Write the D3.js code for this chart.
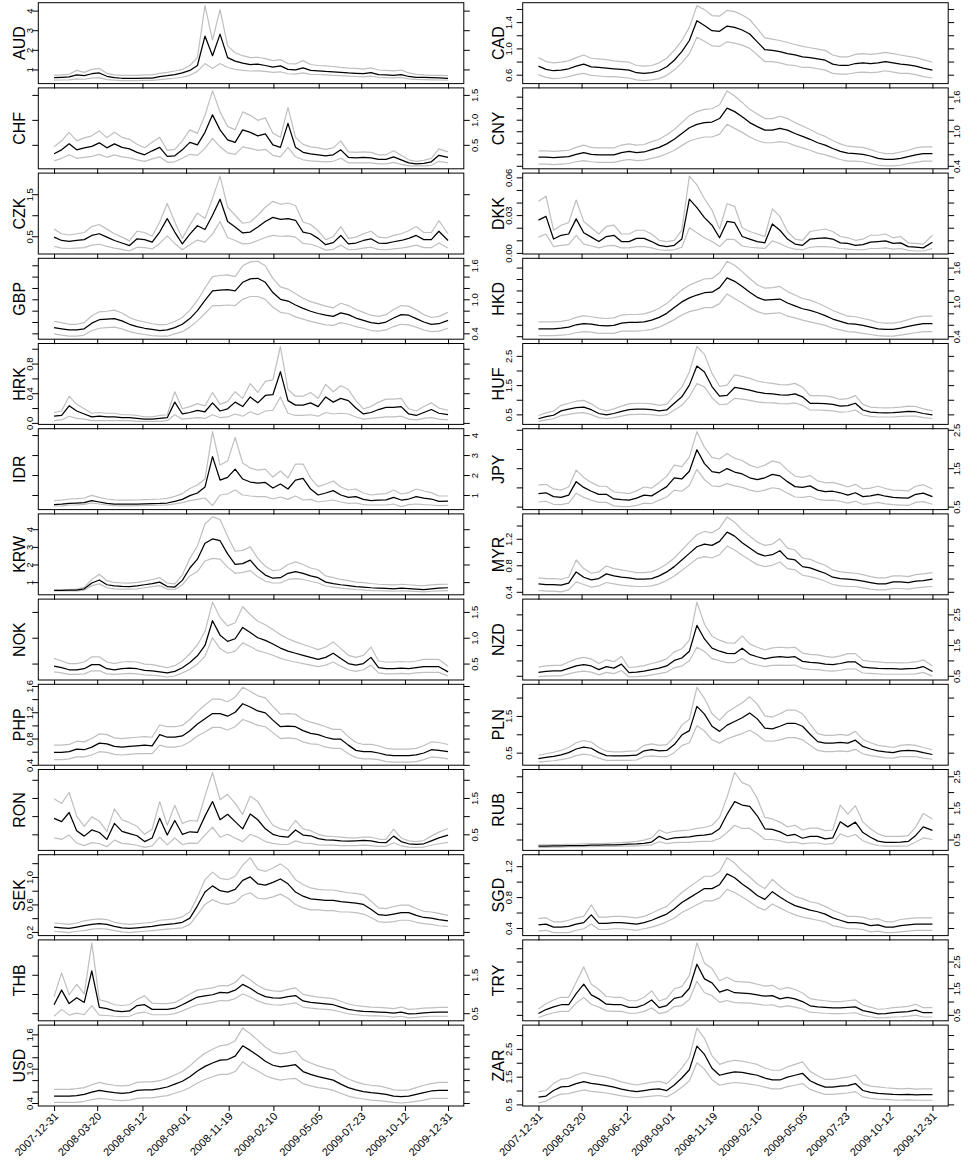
<!DOCTYPE html>
<html>
<head>
<meta charset="utf-8">
<script src="https://cdn.jsdelivr.net/npm/d3@7"></script>
<style>
  body { margin: 0; background: #fff; }
  svg { display: block; }
  text { font-family: "Liberation Sans", Arial, Helvetica, sans-serif; }
</style>
</head>
<body>
<div id="chart"></div>
<script>
// observation dates (every two weeks, end of 2009 as last point)
var dates = ["2007-12-31","2008-01-14","2008-01-28","2008-02-11","2008-02-25","2008-03-10","2008-03-24","2008-04-07","2008-04-21","2008-05-05",
  "2008-05-19","2008-06-02","2008-06-16","2008-06-30","2008-07-14","2008-07-28","2008-08-11","2008-08-25","2008-09-08","2008-09-22",
  "2008-10-06","2008-10-20","2008-11-03","2008-11-17","2008-12-01","2008-12-15","2008-12-29","2009-01-12","2009-01-26","2009-02-09",
  "2009-02-23","2009-03-09","2009-03-23","2009-04-06","2009-04-20","2009-05-04","2009-05-18","2009-06-01","2009-06-15","2009-06-29",
  "2009-07-13","2009-07-27","2009-08-10","2009-08-24","2009-09-07","2009-09-21","2009-10-05","2009-10-19","2009-11-02","2009-11-16",
  "2009-11-30","2009-12-14","2009-12-31"];
var tickDates = ["2007-12-31","2008-03-20","2008-06-12","2008-09-01","2008-11-19","2009-02-10","2009-05-05","2009-07-23","2009-10-12","2009-12-31"];

var leftCurrencies = ["AUD","CHF","CZK","GBP","HRK","IDR","KRW","NOK","PHP","RON","SEK","THB","USD"];
var rightCurrencies = ["CAD","CNY","DKK","HKD","HUF","JPY","MYR","NZD","PLN","RUB","SGD","TRY","ZAR"];

// ---- left column ----
var AUD = [0.58,0.6,0.62,0.72,0.68,0.78,0.82,0.65,0.58,0.55,0.55,0.55,0.56,0.56,0.63,0.68,0.74,0.82,0.95,1.2,2.7,1.7,2.8,1.6,1.42,1.32,1.25,1.27,1.2,1.12,1.18,1.0,0.98,1.08,0.95,0.93,0.9,0.88,0.85,0.82,0.8,0.78,0.84,0.74,0.72,0.7,0.74,0.64,0.6,0.59,0.58,0.57,0.55];
var AUD_hi = [0.7,0.72,0.75,0.95,0.85,1.0,1.05,0.8,0.72,0.7,0.7,0.7,0.72,0.72,0.8,0.85,0.92,1.0,1.2,1.6,4.25,2.5,4.05,2.2,1.85,1.7,1.6,1.62,1.55,1.45,1.5,1.3,1.28,1.45,1.25,1.2,1.18,1.15,1.1,1.07,1.05,1.02,1.08,0.97,0.95,0.93,0.97,0.82,0.75,0.72,0.7,0.7,0.68];
var AUD_lo = [0.45,0.46,0.47,0.52,0.5,0.56,0.58,0.48,0.45,0.43,0.43,0.43,0.44,0.44,0.48,0.52,0.55,0.6,0.7,0.9,1.3,1.05,1.3,1.1,1.0,0.95,0.92,0.93,0.9,0.85,0.88,0.78,0.76,0.82,0.75,0.74,0.72,0.7,0.68,0.66,0.64,0.62,0.66,0.6,0.58,0.57,0.59,0.52,0.49,0.48,0.47,0.46,0.45];
var AUD_ticks = [1,2,3,4], AUD_labels = ["1","2","3","4"];

var CHF = [0.32,0.4,0.52,0.4,0.44,0.47,0.54,0.44,0.52,0.45,0.42,0.35,0.3,0.38,0.45,0.27,0.28,0.4,0.55,0.5,0.75,1.1,0.8,0.6,0.55,0.8,0.75,0.68,0.72,0.5,0.45,0.93,0.45,0.35,0.32,0.3,0.28,0.3,0.4,0.25,0.24,0.25,0.24,0.21,0.21,0.26,0.2,0.14,0.12,0.13,0.16,0.29,0.25];
var CHF_hi = [0.46,0.58,0.75,0.58,0.64,0.68,0.78,0.64,0.75,0.65,0.61,0.51,0.44,0.55,0.65,0.39,0.41,0.58,0.8,0.73,1.09,1.58,1.16,0.87,0.8,1.16,1.09,0.99,1.04,0.73,0.65,1.25,0.65,0.51,0.46,0.44,0.41,0.44,0.58,0.36,0.35,0.36,0.35,0.3,0.3,0.38,0.29,0.2,0.17,0.19,0.23,0.42,0.36];
var CHF_lo = [0.18,0.23,0.3,0.23,0.25,0.27,0.31,0.25,0.3,0.26,0.24,0.2,0.17,0.22,0.26,0.15,0.16,0.23,0.31,0.29,0.43,0.63,0.46,0.34,0.31,0.46,0.43,0.39,0.41,0.29,0.26,0.45,0.26,0.2,0.18,0.17,0.16,0.17,0.23,0.14,0.14,0.14,0.14,0.12,0.12,0.15,0.11,0.08,0.08,0.08,0.09,0.17,0.14];
var CHF_ticks = [0.5,1,1.5], CHF_labels = ["0.5","1.0","1.5"];

var CZK = [0.48,0.4,0.38,0.4,0.42,0.52,0.56,0.48,0.4,0.34,0.28,0.44,0.42,0.36,0.6,0.92,0.6,0.32,0.55,0.75,0.66,1.0,1.38,0.85,0.72,0.58,0.6,0.72,0.85,0.95,0.9,0.92,0.88,0.6,0.56,0.45,0.3,0.35,0.52,0.32,0.34,0.4,0.44,0.34,0.33,0.37,0.4,0.45,0.52,0.42,0.42,0.62,0.4];
var CZK_hi = [0.67,0.56,0.53,0.56,0.59,0.73,0.78,0.67,0.56,0.48,0.39,0.62,0.59,0.5,0.84,1.28,0.84,0.45,0.77,1.05,0.92,1.4,1.93,1.19,1.0,0.81,0.84,1.0,1.19,1.33,1.26,1.29,1.23,0.84,0.78,0.63,0.42,0.49,0.73,0.45,0.48,0.56,0.62,0.48,0.46,0.52,0.56,0.63,0.73,0.59,0.59,0.87,0.56];
var CZK_lo = [0.26,0.22,0.21,0.22,0.23,0.29,0.31,0.26,0.22,0.19,0.15,0.24,0.23,0.2,0.33,0.51,0.33,0.18,0.3,0.41,0.36,0.55,0.85,0.47,0.4,0.32,0.33,0.4,0.47,0.52,0.5,0.51,0.48,0.33,0.31,0.25,0.17,0.19,0.29,0.18,0.19,0.22,0.24,0.19,0.18,0.2,0.22,0.25,0.29,0.23,0.23,0.34,0.22];
var CZK_ticks = [0.5,1,1.5], CZK_labels = ["0.5","","1.5"];

var GBP = [0.5,0.48,0.46,0.46,0.48,0.58,0.64,0.65,0.66,0.62,0.56,0.52,0.49,0.47,0.45,0.46,0.5,0.56,0.66,0.8,0.98,1.15,1.16,1.17,1.15,1.3,1.36,1.37,1.3,1.12,1.0,0.97,0.9,0.84,0.79,0.75,0.72,0.7,0.76,0.73,0.67,0.63,0.59,0.57,0.6,0.67,0.73,0.72,0.66,0.6,0.56,0.57,0.63];
var GBP_hi = [0.61,0.59,0.56,0.56,0.59,0.71,0.78,0.79,0.81,0.76,0.68,0.63,0.6,0.57,0.55,0.56,0.61,0.68,0.81,0.98,1.2,1.4,1.42,1.43,1.4,1.59,1.66,1.67,1.59,1.37,1.22,1.18,1.1,1.02,0.96,0.92,0.88,0.85,0.93,0.89,0.82,0.77,0.72,0.7,0.73,0.82,0.89,0.88,0.81,0.73,0.68,0.7,0.77];
var GBP_lo = [0.39,0.37,0.35,0.35,0.37,0.45,0.49,0.5,0.51,0.48,0.43,0.4,0.38,0.36,0.35,0.35,0.39,0.43,0.51,0.62,0.75,0.89,0.89,0.9,0.89,1.0,1.05,1.05,1.0,0.86,0.77,0.75,0.69,0.65,0.61,0.58,0.55,0.54,0.59,0.56,0.52,0.49,0.45,0.44,0.46,0.52,0.56,0.55,0.51,0.46,0.43,0.44,0.49];
var GBP_ticks = [0.4,0.6,0.8,1.0,1.2,1.4,1.6], GBP_labels = ["0.4","","","1.0","","","1.6"];

var HRK = [0.09,0.1,0.23,0.16,0.12,0.08,0.09,0.08,0.08,0.07,0.07,0.06,0.05,0.05,0.06,0.07,0.28,0.12,0.14,0.17,0.15,0.27,0.16,0.19,0.28,0.22,0.35,0.27,0.37,0.38,0.69,0.3,0.24,0.24,0.27,0.22,0.35,0.28,0.33,0.3,0.2,0.12,0.14,0.18,0.21,0.21,0.22,0.12,0.1,0.14,0.18,0.13,0.11];
var HRK_hi = [0.14,0.16,0.36,0.25,0.19,0.13,0.14,0.13,0.13,0.11,0.11,0.1,0.08,0.08,0.1,0.11,0.42,0.19,0.22,0.26,0.23,0.41,0.25,0.29,0.42,0.33,0.53,0.41,0.56,0.58,1.03,0.45,0.36,0.36,0.41,0.33,0.52,0.42,0.5,0.45,0.3,0.19,0.22,0.28,0.32,0.32,0.33,0.19,0.16,0.22,0.27,0.2,0.17];
var HRK_lo = [0.03,0.04,0.09,0.06,0.05,0.03,0.03,0.03,0.03,0.03,0.03,0.02,0.02,0.02,0.02,0.03,0.11,0.05,0.06,0.07,0.06,0.11,0.07,0.08,0.12,0.09,0.15,0.11,0.16,0.17,0.35,0.13,0.1,0.1,0.11,0.09,0.14,0.12,0.13,0.12,0.08,0.05,0.06,0.07,0.08,0.08,0.09,0.05,0.04,0.06,0.07,0.05,0.04];
var HRK_ticks = [0,0.2,0.4,0.6,0.8,1.0], HRK_labels = ["0.0","","0.4","","0.8",""];

var IDR = [0.52,0.54,0.58,0.6,0.62,0.72,0.65,0.58,0.55,0.54,0.54,0.55,0.56,0.57,0.58,0.6,0.68,0.78,0.97,1.1,1.4,2.92,1.75,1.88,2.3,1.8,1.65,1.6,1.63,1.35,1.55,1.3,1.75,1.83,1.3,1.0,1.1,1.22,1.0,0.88,0.92,0.78,0.72,0.74,0.76,0.88,0.75,0.8,0.92,0.85,0.8,0.68,0.7];
var IDR_hi = [0.72,0.74,0.8,0.82,0.85,0.98,0.88,0.8,0.76,0.74,0.74,0.75,0.77,0.78,0.8,0.83,0.93,1.07,1.33,1.5,1.8,4.17,2.5,2.7,3.88,2.6,2.35,2.25,2.3,1.9,2.2,1.85,2.55,2.55,1.85,1.42,1.55,1.7,1.4,1.25,1.3,1.1,1.0,1.04,1.07,1.25,1.05,1.12,1.3,1.2,1.12,0.95,0.95];
var IDR_lo = [0.45,0.46,0.5,0.51,0.53,0.6,0.55,0.5,0.47,0.46,0.46,0.47,0.48,0.48,0.49,0.51,0.56,0.62,0.72,0.78,0.85,0.47,1.0,1.05,1.25,1.0,0.95,0.92,0.92,0.8,0.9,0.78,0.95,0.75,0.78,0.65,0.7,0.75,0.65,0.58,0.6,0.52,0.5,0.5,0.5,0.55,0.42,0.52,0.55,0.52,0.5,0.47,0.48];
var IDR_ticks = [1,2,3,4], IDR_labels = ["1","2","3","4"];

var KRW = [0.53,0.53,0.54,0.55,0.62,0.95,1.12,0.85,0.78,0.76,0.75,0.78,0.85,0.92,1.0,0.75,0.72,1.1,1.8,2.3,3.2,3.45,3.35,2.6,2.0,2.05,2.25,1.75,1.4,1.22,1.25,1.5,1.6,1.5,1.35,1.25,1.0,0.92,0.85,0.8,0.75,0.72,0.68,0.66,0.64,0.62,0.66,0.63,0.6,0.57,0.62,0.66,0.68];
var KRW_hi = [0.55,0.56,0.58,0.6,0.7,1.15,1.45,1.08,0.98,0.95,0.94,0.98,1.06,1.15,1.25,0.95,0.9,1.4,2.35,3.05,4.3,4.7,4.55,3.6,2.75,2.8,3.0,2.35,1.9,1.65,1.7,2.0,2.15,2.0,1.8,1.7,1.35,1.25,1.15,1.08,1.0,0.97,0.92,0.88,0.86,0.84,0.88,0.85,0.82,0.8,0.84,0.87,0.88];
var KRW_lo = [0.5,0.5,0.5,0.5,0.55,0.8,0.9,0.68,0.62,0.6,0.6,0.62,0.68,0.74,0.8,0.6,0.58,0.85,1.35,1.6,2.2,2.35,2.3,1.85,1.5,1.55,1.65,1.3,1.05,0.95,0.95,1.15,1.2,1.15,1.05,0.95,0.78,0.72,0.66,0.62,0.58,0.56,0.52,0.51,0.5,0.48,0.51,0.49,0.47,0.45,0.48,0.5,0.52];
var KRW_ticks = [1,2,3,4], KRW_labels = ["1","2","3","4"];

var NOK = [0.45,0.42,0.38,0.38,0.4,0.48,0.48,0.4,0.38,0.4,0.41,0.4,0.37,0.36,0.34,0.32,0.35,0.42,0.52,0.65,0.85,1.33,1.05,0.93,0.98,1.2,1.1,1.0,0.95,0.88,0.8,0.74,0.7,0.66,0.62,0.58,0.62,0.7,0.6,0.5,0.47,0.5,0.62,0.42,0.4,0.4,0.41,0.4,0.42,0.44,0.44,0.44,0.34];
var NOK_hi = [0.6,0.55,0.5,0.5,0.53,0.63,0.63,0.53,0.5,0.53,0.54,0.53,0.49,0.48,0.45,0.42,0.46,0.55,0.69,0.86,1.12,1.69,1.39,1.23,1.29,1.6,1.45,1.32,1.25,1.16,1.06,0.98,0.92,0.87,0.82,0.77,0.82,0.92,0.79,0.66,0.62,0.66,0.82,0.55,0.53,0.53,0.54,0.53,0.55,0.58,0.58,0.58,0.45];
var NOK_lo = [0.34,0.32,0.29,0.29,0.3,0.36,0.36,0.3,0.29,0.3,0.31,0.3,0.28,0.27,0.26,0.24,0.26,0.32,0.39,0.49,0.64,1.0,0.79,0.7,0.74,0.9,0.83,0.75,0.71,0.66,0.6,0.56,0.53,0.5,0.47,0.44,0.47,0.53,0.45,0.38,0.35,0.38,0.47,0.32,0.3,0.3,0.31,0.3,0.32,0.33,0.33,0.33,0.26];
var NOK_ticks = [0.5,1,1.5], NOK_labels = ["0.5","1.0","1.5"];

var PHP = [0.59,0.59,0.6,0.64,0.63,0.67,0.73,0.72,0.68,0.67,0.68,0.69,0.7,0.69,0.86,0.82,0.82,0.84,0.92,1.02,1.1,1.18,1.18,1.14,1.2,1.33,1.28,1.22,1.19,1.08,0.98,0.99,0.98,0.92,0.88,0.86,0.82,0.79,0.79,0.7,0.62,0.6,0.6,0.58,0.55,0.54,0.54,0.54,0.55,0.58,0.63,0.62,0.6];
var PHP_hi = [0.7,0.7,0.71,0.76,0.75,0.8,0.87,0.86,0.81,0.8,0.81,0.82,0.83,0.82,1.01,0.98,0.98,1.0,1.09,1.21,1.31,1.4,1.4,1.36,1.43,1.58,1.52,1.45,1.42,1.29,1.17,1.18,1.17,1.09,1.05,1.02,0.98,0.94,0.94,0.83,0.74,0.71,0.71,0.69,0.65,0.64,0.64,0.64,0.65,0.69,0.75,0.74,0.71];
var PHP_lo = [0.48,0.48,0.49,0.52,0.52,0.55,0.6,0.59,0.56,0.55,0.56,0.57,0.57,0.57,0.7,0.67,0.67,0.69,0.75,0.84,0.9,0.97,0.97,0.93,0.98,1.09,1.05,1.0,0.98,0.89,0.8,0.81,0.8,0.75,0.72,0.71,0.67,0.65,0.65,0.57,0.51,0.49,0.49,0.48,0.45,0.44,0.44,0.44,0.45,0.48,0.52,0.51,0.49];
var PHP_ticks = [0.4,0.6,0.8,1.0,1.2,1.4,1.6], PHP_labels = ["0.4","","0.8","","1.2","","1.6"];

var RON = [0.94,0.85,1.1,0.6,0.45,0.62,0.55,0.36,0.8,0.58,0.52,0.46,0.3,0.4,0.94,0.48,0.88,0.5,0.57,0.55,1.0,1.4,0.9,1.05,0.85,0.65,1.06,0.9,0.65,0.5,0.44,0.42,0.62,0.48,0.46,0.38,0.35,0.34,0.32,0.31,0.32,0.33,0.32,0.28,0.27,0.45,0.3,0.24,0.22,0.24,0.32,0.4,0.48];
var RON_hi = [1.48,1.35,1.65,1.0,0.72,0.98,0.86,0.58,1.2,0.9,0.82,0.72,0.5,0.64,1.4,0.75,1.3,0.8,0.88,0.86,1.55,2.2,1.45,1.6,1.35,1.05,1.55,1.4,1.05,0.75,0.65,0.6,0.88,0.65,0.6,0.5,0.45,0.44,0.42,0.4,0.4,0.42,0.42,0.37,0.36,0.64,0.4,0.32,0.3,0.33,0.45,0.56,0.66];
var RON_lo = [0.4,0.36,0.48,0.26,0.19,0.27,0.24,0.16,0.34,0.25,0.23,0.2,0.14,0.18,0.42,0.21,0.4,0.22,0.26,0.25,0.48,0.7,0.42,0.5,0.4,0.3,0.5,0.42,0.3,0.25,0.22,0.22,0.32,0.26,0.25,0.21,0.2,0.2,0.19,0.19,0.19,0.2,0.19,0.17,0.17,0.27,0.18,0.15,0.14,0.15,0.2,0.24,0.28];
var RON_ticks = [0.5,1,1.5,2], RON_labels = ["0.5","","1.5",""];

var SEK = [0.27,0.26,0.25,0.27,0.29,0.31,0.32,0.31,0.28,0.26,0.25,0.26,0.27,0.28,0.3,0.31,0.32,0.34,0.4,0.58,0.78,0.87,0.8,0.78,0.82,0.95,1.0,0.9,0.88,0.92,0.97,0.9,0.78,0.72,0.68,0.67,0.66,0.66,0.64,0.63,0.62,0.6,0.53,0.45,0.44,0.46,0.48,0.48,0.44,0.41,0.4,0.38,0.36];
var SEK_hi = [0.33,0.32,0.31,0.33,0.36,0.38,0.39,0.38,0.34,0.32,0.31,0.32,0.33,0.34,0.37,0.38,0.39,0.42,0.49,0.71,0.96,1.07,0.98,0.96,1.01,1.17,1.28,1.11,1.08,1.13,1.19,1.11,0.96,0.89,0.84,0.82,0.81,0.81,0.79,0.77,0.76,0.74,0.65,0.55,0.54,0.57,0.59,0.59,0.54,0.5,0.49,0.47,0.44];
var SEK_lo = [0.21,0.2,0.19,0.21,0.22,0.24,0.25,0.24,0.22,0.2,0.19,0.2,0.21,0.22,0.23,0.24,0.25,0.26,0.31,0.45,0.6,0.67,0.62,0.6,0.63,0.73,0.77,0.69,0.68,0.71,0.75,0.69,0.6,0.55,0.52,0.52,0.51,0.51,0.49,0.49,0.48,0.46,0.41,0.35,0.34,0.35,0.37,0.37,0.34,0.32,0.31,0.29,0.28];
var SEK_ticks = [0.2,0.4,0.6,0.8,1.0,1.2], SEK_labels = ["0.2","","0.6","","1.0",""];

var THB = [0.72,1.1,0.75,0.9,0.78,1.6,0.65,0.62,0.56,0.54,0.56,0.7,0.72,0.6,0.6,0.6,0.63,0.72,0.82,0.92,0.95,0.98,1.04,1.03,1.1,1.25,1.15,1.02,0.93,0.9,0.89,0.93,0.96,0.82,0.78,0.76,0.74,0.72,0.66,0.6,0.57,0.55,0.54,0.53,0.52,0.5,0.53,0.48,0.49,0.51,0.52,0.53,0.53];
var THB_hi = [0.93,1.55,0.98,1.25,1.0,2.33,0.85,0.8,0.72,0.7,0.72,0.86,0.95,0.76,0.75,0.75,0.78,0.88,1.0,1.1,1.13,1.16,1.22,1.21,1.3,1.5,1.37,1.22,1.12,1.08,1.07,1.12,1.16,0.99,0.95,0.92,0.9,0.88,0.81,0.74,0.7,0.68,0.66,0.65,0.64,0.62,0.66,0.6,0.61,0.63,0.64,0.65,0.65];
var THB_lo = [0.42,0.6,0.45,0.5,0.46,0.7,0.45,0.44,0.42,0.41,0.42,0.5,0.53,0.46,0.46,0.46,0.49,0.56,0.64,0.72,0.75,0.78,0.83,0.82,0.88,1.0,0.92,0.82,0.75,0.72,0.71,0.74,0.77,0.66,0.63,0.61,0.6,0.58,0.53,0.48,0.46,0.44,0.43,0.43,0.42,0.4,0.42,0.38,0.39,0.41,0.42,0.42,0.42];
var THB_ticks = [0.5,1,1.5,2], THB_labels = ["0.5","","1.5",""];

var USD = [0.52,0.52,0.52,0.53,0.55,0.59,0.62,0.6,0.58,0.57,0.58,0.62,0.63,0.63,0.65,0.68,0.73,0.78,0.86,0.96,1.04,1.1,1.15,1.16,1.22,1.4,1.32,1.23,1.13,1.06,1.03,1.05,1.07,0.95,0.9,0.86,0.83,0.8,0.73,0.67,0.63,0.6,0.58,0.57,0.55,0.52,0.51,0.52,0.55,0.58,0.61,0.62,0.62];
var USD_hi = [0.64,0.64,0.64,0.65,0.67,0.72,0.76,0.73,0.71,0.7,0.71,0.76,0.77,0.77,0.79,0.83,0.89,0.95,1.05,1.17,1.27,1.34,1.4,1.42,1.49,1.71,1.61,1.5,1.38,1.29,1.26,1.28,1.31,1.16,1.1,1.05,1.01,0.98,0.89,0.82,0.77,0.73,0.71,0.7,0.67,0.63,0.62,0.63,0.67,0.71,0.74,0.76,0.76];
var USD_lo = [0.41,0.41,0.41,0.41,0.43,0.46,0.48,0.47,0.45,0.44,0.45,0.48,0.49,0.49,0.51,0.53,0.57,0.61,0.67,0.75,0.81,0.86,0.9,0.9,0.95,1.12,1.03,0.96,0.88,0.83,0.8,0.82,0.83,0.74,0.7,0.67,0.65,0.62,0.57,0.52,0.49,0.47,0.45,0.44,0.43,0.41,0.4,0.41,0.43,0.45,0.48,0.48,0.48];
var USD_ticks = [0.4,0.6,0.8,1.0,1.2,1.4,1.6], USD_labels = ["0.4","","","1.0","","","1.6"];

// ---- right column ----
var CAD = [0.73,0.68,0.66,0.67,0.69,0.73,0.76,0.72,0.71,0.7,0.69,0.68,0.67,0.63,0.62,0.63,0.66,0.72,0.82,0.95,1.12,1.42,1.35,1.27,1.26,1.34,1.32,1.28,1.22,1.1,0.98,0.97,0.95,0.92,0.9,0.87,0.86,0.84,0.82,0.76,0.74,0.74,0.77,0.78,0.77,0.78,0.8,0.78,0.76,0.75,0.73,0.7,0.67];
var CAD_hi = [0.86,0.8,0.78,0.79,0.81,0.86,0.9,0.85,0.84,0.83,0.81,0.8,0.79,0.74,0.73,0.74,0.78,0.85,0.97,1.12,1.32,1.65,1.59,1.5,1.49,1.58,1.56,1.51,1.44,1.3,1.16,1.14,1.12,1.09,1.06,1.03,1.01,0.99,0.97,0.9,0.87,0.87,0.91,0.92,0.91,0.92,0.94,0.92,0.9,0.88,0.86,0.83,0.79];
var CAD_lo = [0.6,0.56,0.54,0.55,0.57,0.6,0.62,0.59,0.58,0.57,0.57,0.56,0.55,0.52,0.51,0.52,0.54,0.59,0.67,0.78,0.92,1.17,1.11,1.04,1.03,1.1,1.08,1.05,1.0,0.9,0.8,0.8,0.78,0.75,0.74,0.71,0.71,0.69,0.67,0.62,0.61,0.61,0.63,0.64,0.63,0.64,0.66,0.64,0.62,0.62,0.6,0.57,0.55];
var CAD_ticks = [0.6,0.8,1.0,1.2,1.4,1.6], CAD_labels = ["0.6","","1.0","","1.4",""];

var CNY = [0.55,0.55,0.54,0.55,0.56,0.6,0.63,0.6,0.59,0.59,0.59,0.63,0.65,0.63,0.64,0.68,0.72,0.78,0.86,0.96,1.06,1.12,1.15,1.16,1.22,1.4,1.34,1.25,1.15,1.08,1.02,1.02,1.05,1.02,0.96,0.91,0.86,0.8,0.76,0.7,0.65,0.62,0.61,0.6,0.57,0.53,0.51,0.51,0.53,0.56,0.59,0.61,0.61];
var CNY_hi = [0.66,0.66,0.65,0.66,0.67,0.72,0.76,0.72,0.71,0.71,0.71,0.76,0.78,0.76,0.77,0.82,0.86,0.94,1.03,1.15,1.27,1.34,1.38,1.39,1.46,1.7,1.61,1.5,1.38,1.3,1.22,1.22,1.26,1.22,1.15,1.09,1.03,0.96,0.91,0.84,0.78,0.74,0.73,0.72,0.68,0.64,0.61,0.61,0.64,0.67,0.71,0.73,0.73];
var CNY_lo = [0.43,0.43,0.42,0.43,0.44,0.47,0.49,0.47,0.46,0.46,0.46,0.49,0.51,0.49,0.5,0.53,0.56,0.61,0.67,0.75,0.83,0.87,0.9,0.9,0.95,1.12,1.05,0.98,0.9,0.84,0.8,0.8,0.82,0.8,0.75,0.71,0.67,0.62,0.59,0.55,0.51,0.48,0.48,0.47,0.44,0.41,0.4,0.4,0.41,0.44,0.46,0.48,0.48];
var CNY_ticks = [0.4,0.6,0.8,1.0,1.2,1.4,1.6], CNY_labels = ["0.4","","","1.0","","","1.6"];

var DKK = [0.026,0.029,0.011,0.014,0.015,0.027,0.016,0.0125,0.009,0.013,0.014,0.009,0.009,0.0115,0.0115,0.009,0.006,0.005,0.006,0.011,0.0427,0.036,0.028,0.022,0.012,0.025,0.024,0.013,0.011,0.009,0.008,0.023,0.018,0.011,0.007,0.006,0.011,0.0115,0.012,0.011,0.008,0.0075,0.006,0.0065,0.0085,0.009,0.0095,0.0075,0.008,0.005,0.0045,0.004,0.0085];
var DKK_hi = [0.041,0.045,0.018,0.022,0.024,0.042,0.025,0.02,0.015,0.021,0.022,0.015,0.015,0.018,0.018,0.015,0.01,0.009,0.01,0.018,0.061,0.054,0.043,0.034,0.019,0.039,0.037,0.02,0.017,0.015,0.013,0.035,0.029,0.017,0.011,0.01,0.017,0.018,0.019,0.017,0.013,0.012,0.01,0.011,0.014,0.014,0.015,0.012,0.013,0.008,0.0075,0.007,0.014];
var DKK_lo = [0.0125,0.015,0.005,0.006,0.0065,0.014,0.007,0.0055,0.004,0.0055,0.006,0.004,0.004,0.005,0.005,0.004,0.0025,0.002,0.0025,0.0045,0.02,0.016,0.012,0.009,0.005,0.011,0.0105,0.0055,0.0045,0.004,0.0035,0.0095,0.0075,0.0045,0.003,0.0025,0.0045,0.005,0.005,0.0045,0.0035,0.003,0.0025,0.0025,0.0035,0.0035,0.004,0.003,0.0035,0.002,0.0015,0.0015,0.0035];
var DKK_ticks = [0,0.01,0.02,0.03,0.04,0.05,0.06], DKK_labels = ["0.00","","","0.03","","","0.06"];

var HKD = [0.53,0.53,0.53,0.54,0.56,0.6,0.62,0.61,0.59,0.58,0.59,0.63,0.64,0.64,0.65,0.68,0.73,0.8,0.9,1.0,1.07,1.12,1.16,1.17,1.25,1.42,1.36,1.27,1.17,1.08,1.03,1.04,1.05,0.98,0.93,0.88,0.85,0.81,0.76,0.7,0.66,0.62,0.61,0.59,0.56,0.53,0.52,0.52,0.54,0.57,0.6,0.62,0.62];
var HKD_hi = [0.65,0.65,0.65,0.66,0.68,0.73,0.76,0.74,0.72,0.71,0.72,0.77,0.78,0.78,0.79,0.83,0.89,0.97,1.09,1.21,1.29,1.35,1.4,1.41,1.51,1.71,1.64,1.53,1.41,1.3,1.24,1.25,1.27,1.18,1.12,1.06,1.03,0.98,0.92,0.85,0.8,0.75,0.74,0.71,0.68,0.64,0.63,0.63,0.65,0.69,0.73,0.75,0.75];
var HKD_lo = [0.41,0.41,0.41,0.42,0.43,0.46,0.48,0.47,0.45,0.45,0.45,0.49,0.49,0.49,0.5,0.52,0.56,0.62,0.69,0.77,0.83,0.86,0.9,0.9,0.97,1.14,1.06,0.98,0.9,0.83,0.79,0.8,0.81,0.75,0.72,0.68,0.65,0.62,0.59,0.54,0.51,0.48,0.47,0.45,0.43,0.41,0.4,0.4,0.42,0.44,0.46,0.48,0.48];
var HKD_ticks = [0.4,0.6,0.8,1.0,1.2,1.4,1.6], HKD_labels = ["0.4","","","1.0","","","1.6"];

var HUF = [0.35,0.42,0.47,0.62,0.68,0.73,0.75,0.66,0.53,0.48,0.53,0.6,0.66,0.68,0.68,0.66,0.62,0.65,0.88,1.1,1.5,2.15,1.95,1.45,1.12,1.15,1.42,1.38,1.33,1.26,1.22,1.2,1.17,1.16,1.2,1.1,0.88,0.88,0.87,0.84,0.78,0.8,0.88,0.65,0.58,0.56,0.55,0.56,0.58,0.6,0.59,0.53,0.48];
var HUF_hi = [0.46,0.55,0.61,0.81,0.88,0.95,0.98,0.86,0.69,0.62,0.69,0.78,0.86,0.88,0.88,0.86,0.81,0.85,1.14,1.43,1.95,2.82,2.55,1.9,1.46,1.5,1.85,1.8,1.73,1.64,1.59,1.56,1.52,1.51,1.56,1.43,1.14,1.14,1.13,1.09,1.01,1.04,1.14,0.84,0.75,0.73,0.72,0.73,0.75,0.78,0.77,0.69,0.62];
var HUF_lo = [0.26,0.31,0.35,0.46,0.5,0.54,0.56,0.49,0.39,0.36,0.39,0.44,0.49,0.5,0.5,0.49,0.46,0.48,0.65,0.81,1.1,1.55,1.44,1.07,0.83,0.85,1.05,1.02,0.98,0.93,0.9,0.89,0.87,0.86,0.89,0.81,0.65,0.65,0.64,0.62,0.58,0.59,0.65,0.48,0.43,0.41,0.41,0.41,0.43,0.44,0.44,0.39,0.36];
var HUF_ticks = [0.5,1,1.5,2,2.5], HUF_labels = ["0.5","","1.5","","2.5"];

var JPY = [0.84,0.86,0.76,0.74,0.8,1.15,1.0,0.9,0.82,0.82,0.7,0.68,0.67,0.72,0.8,0.78,0.9,1.02,1.25,1.22,1.42,1.98,1.62,1.41,1.38,1.49,1.4,1.35,1.25,1.2,1.25,1.34,1.3,1.15,1.02,1.0,1.04,0.93,0.89,0.9,0.86,0.8,0.86,0.76,0.78,0.82,0.77,0.74,0.73,0.72,0.82,0.85,0.76];
var JPY_hi = [1.06,1.08,0.96,0.93,1.01,1.45,1.26,1.13,1.03,1.03,0.88,0.86,0.84,0.91,1.01,0.98,1.13,1.29,1.58,1.54,1.79,2.45,2.04,1.78,1.74,1.88,1.76,1.7,1.58,1.51,1.58,1.69,1.64,1.45,1.29,1.26,1.31,1.17,1.12,1.13,1.08,1.01,1.08,0.96,0.98,1.03,0.97,0.93,0.92,0.91,1.03,1.07,0.96];
var JPY_lo = [0.62,0.64,0.56,0.55,0.59,0.85,0.74,0.67,0.61,0.61,0.52,0.5,0.5,0.53,0.59,0.58,0.67,0.75,0.93,0.9,1.05,1.47,1.2,1.04,1.02,1.1,1.04,1.0,0.93,0.89,0.93,0.99,0.96,0.85,0.75,0.74,0.77,0.69,0.66,0.67,0.64,0.59,0.64,0.56,0.58,0.61,0.57,0.55,0.54,0.53,0.61,0.63,0.56];
var JPY_ticks = [0.5,1,1.5,2,2.5], JPY_labels = ["0.5","","1.5","","2.5"];

var MYR = [0.52,0.51,0.51,0.5,0.53,0.7,0.62,0.58,0.6,0.67,0.64,0.62,0.61,0.59,0.59,0.6,0.64,0.7,0.78,0.88,0.98,1.08,1.12,1.1,1.16,1.3,1.24,1.14,1.06,0.98,0.94,0.96,1.02,0.9,0.88,0.78,0.76,0.72,0.68,0.62,0.6,0.59,0.58,0.56,0.54,0.52,0.52,0.55,0.55,0.54,0.56,0.57,0.59];
var MYR_hi = [0.61,0.6,0.6,0.59,0.62,0.88,0.75,0.68,0.7,0.79,0.75,0.73,0.71,0.69,0.69,0.7,0.75,0.82,0.91,1.03,1.15,1.26,1.31,1.29,1.36,1.53,1.45,1.33,1.24,1.15,1.1,1.12,1.2,1.06,1.03,0.91,0.89,0.84,0.8,0.73,0.7,0.69,0.68,0.66,0.63,0.61,0.61,0.64,0.64,0.63,0.66,0.67,0.69];
var MYR_lo = [0.42,0.41,0.41,0.4,0.43,0.55,0.51,0.47,0.49,0.54,0.52,0.5,0.49,0.48,0.48,0.49,0.52,0.57,0.64,0.72,0.81,0.9,0.93,0.91,0.96,1.09,1.03,0.95,0.88,0.81,0.78,0.8,0.85,0.75,0.73,0.65,0.63,0.6,0.56,0.51,0.49,0.48,0.48,0.46,0.44,0.43,0.43,0.45,0.45,0.44,0.46,0.47,0.48];
var MYR_ticks = [0.4,0.6,0.8,1.0,1.2,1.4], MYR_labels = ["0.4","","0.8","","1.2",""];

var NZD = [0.61,0.64,0.66,0.66,0.74,0.82,0.86,0.82,0.7,0.8,0.75,0.88,0.6,0.62,0.65,0.7,0.75,0.82,1.0,1.08,1.3,2.14,1.7,1.4,1.3,1.23,1.22,1.4,1.2,1.12,1.05,1.1,1.12,1.1,1.12,0.97,0.94,0.92,0.88,0.86,0.9,0.95,0.95,0.78,0.76,0.74,0.73,0.73,0.72,0.73,0.74,0.8,0.64];
var NZD_hi = [0.78,0.82,0.84,0.84,0.95,1.05,1.1,1.05,0.9,1.02,0.96,1.13,0.77,0.79,0.83,0.9,0.96,1.05,1.28,1.38,1.66,2.9,2.18,1.79,1.66,1.57,1.56,1.8,1.54,1.43,1.34,1.41,1.43,1.41,1.43,1.24,1.2,1.18,1.13,1.1,1.15,1.22,1.22,1.0,0.97,0.95,0.93,0.93,0.92,0.93,0.95,1.02,0.82];
var NZD_lo = [0.47,0.49,0.5,0.5,0.56,0.62,0.65,0.62,0.53,0.61,0.57,0.67,0.46,0.47,0.49,0.53,0.57,0.62,0.76,0.82,0.99,1.43,1.29,1.06,0.99,0.93,0.93,1.06,0.91,0.85,0.8,0.84,0.85,0.84,0.85,0.74,0.71,0.7,0.67,0.65,0.68,0.72,0.72,0.59,0.58,0.56,0.55,0.55,0.55,0.55,0.56,0.61,0.49];
var NZD_ticks = [0.5,1,1.5,2,2.5], NZD_labels = ["0.5","","1.5","","2.5"];

var PLN = [0.34,0.37,0.4,0.44,0.5,0.6,0.65,0.62,0.5,0.42,0.41,0.41,0.42,0.43,0.55,0.58,0.55,0.56,0.72,0.98,1.1,1.76,1.55,1.22,1.08,1.25,1.35,1.45,1.58,1.42,1.17,1.15,1.22,1.3,1.3,1.22,1.0,0.8,0.76,0.76,0.78,0.76,0.84,0.67,0.6,0.55,0.52,0.5,0.55,0.56,0.55,0.5,0.45];
var PLN_hi = [0.43,0.47,0.51,0.56,0.64,0.77,0.83,0.79,0.64,0.54,0.52,0.52,0.54,0.55,0.7,0.74,0.7,0.72,0.92,1.25,1.41,2.28,1.98,1.56,1.38,1.6,1.73,1.86,2.02,1.82,1.5,1.47,1.56,1.66,1.66,1.56,1.28,1.02,0.97,0.97,1.0,0.97,1.08,0.86,0.77,0.7,0.67,0.64,0.7,0.72,0.7,0.64,0.58];
var PLN_lo = [0.24,0.26,0.28,0.31,0.35,0.42,0.46,0.43,0.35,0.29,0.29,0.29,0.29,0.3,0.39,0.41,0.39,0.39,0.5,0.69,0.77,1.23,1.09,0.85,0.76,0.88,0.95,1.02,1.11,0.99,0.82,0.81,0.85,0.91,0.91,0.85,0.7,0.56,0.53,0.53,0.55,0.53,0.59,0.47,0.42,0.39,0.36,0.35,0.39,0.39,0.39,0.35,0.32];
var PLN_ticks = [0.5,1,1.5,2], PLN_labels = ["0.5","","1.5",""];

var RUB = [0.29,0.29,0.3,0.3,0.31,0.31,0.31,0.32,0.32,0.33,0.33,0.34,0.35,0.36,0.38,0.42,0.6,0.5,0.55,0.57,0.58,0.62,0.64,0.68,0.84,1.3,1.7,1.59,1.55,1.25,0.84,0.82,0.74,0.62,0.66,0.54,0.6,0.6,0.52,0.55,1.06,0.9,1.05,0.72,0.57,0.45,0.41,0.41,0.42,0.44,0.63,0.9,0.79];
var RUB_hi = [0.33,0.33,0.34,0.34,0.35,0.35,0.36,0.37,0.37,0.38,0.39,0.4,0.42,0.44,0.48,0.55,0.8,0.7,0.76,0.78,0.8,0.85,0.88,0.95,1.2,1.85,2.62,2.3,2.2,1.8,1.2,1.15,1.05,0.9,0.95,0.8,0.86,0.86,0.78,0.8,1.59,1.3,1.57,1.05,0.84,0.68,0.6,0.6,0.6,0.62,0.9,1.32,1.15];
var RUB_lo = [0.25,0.25,0.26,0.26,0.27,0.27,0.27,0.27,0.28,0.28,0.28,0.29,0.29,0.3,0.31,0.33,0.43,0.37,0.4,0.41,0.41,0.43,0.44,0.45,0.53,0.72,0.95,0.85,0.85,0.7,0.5,0.5,0.46,0.4,0.42,0.36,0.39,0.39,0.35,0.37,0.68,0.58,0.66,0.46,0.37,0.31,0.29,0.29,0.29,0.3,0.42,0.55,0.5];
var RUB_ticks = [0.5,1,1.5,2,2.5], RUB_labels = ["0.5","","1.5","","2.5"];

var SGD = [0.44,0.45,0.41,0.41,0.42,0.45,0.47,0.57,0.46,0.46,0.47,0.47,0.46,0.45,0.47,0.5,0.54,0.58,0.65,0.73,0.79,0.85,0.91,0.91,0.96,1.1,1.05,0.97,0.9,0.82,0.77,0.87,0.8,0.74,0.69,0.66,0.63,0.61,0.58,0.53,0.5,0.47,0.47,0.46,0.43,0.44,0.41,0.41,0.43,0.44,0.45,0.45,0.45];
var SGD_hi = [0.52,0.53,0.48,0.48,0.5,0.53,0.55,0.7,0.54,0.54,0.55,0.55,0.54,0.53,0.55,0.59,0.64,0.68,0.77,0.86,0.93,1.0,1.07,1.07,1.13,1.31,1.24,1.14,1.06,0.97,0.91,1.03,0.94,0.87,0.81,0.78,0.74,0.72,0.68,0.63,0.59,0.55,0.55,0.54,0.51,0.52,0.48,0.48,0.51,0.52,0.53,0.53,0.53];
var SGD_lo = [0.36,0.37,0.34,0.34,0.34,0.37,0.39,0.45,0.38,0.38,0.39,0.39,0.38,0.37,0.39,0.41,0.44,0.48,0.53,0.6,0.65,0.7,0.75,0.75,0.79,0.9,0.86,0.8,0.74,0.67,0.63,0.71,0.66,0.61,0.57,0.54,0.52,0.5,0.48,0.43,0.41,0.39,0.39,0.38,0.35,0.36,0.34,0.34,0.35,0.36,0.37,0.37,0.37];
var SGD_ticks = [0.4,0.6,0.8,1.0,1.2], SGD_labels = ["0.4","","0.8","","1.2"];

var TRY = [0.55,0.7,0.8,0.88,0.88,1.3,1.65,1.25,1.1,0.9,0.88,0.88,0.78,0.78,0.88,1.06,0.77,0.85,1.12,1.18,1.5,2.4,1.85,1.7,1.35,1.45,1.33,1.32,1.3,1.25,1.2,1.22,1.1,1.16,1.1,1.0,0.84,0.8,0.78,0.76,0.76,0.78,0.8,0.66,0.6,0.54,0.55,0.58,0.6,0.62,0.68,0.58,0.58];
var TRY_hi = [0.72,0.92,1.06,1.16,1.16,1.72,2.3,1.65,1.45,1.19,1.16,1.16,1.03,1.03,1.16,1.4,1.02,1.12,1.48,1.56,1.98,3.2,2.44,2.24,1.78,1.91,1.76,1.74,1.72,1.65,1.58,1.61,1.45,1.53,1.45,1.32,1.11,1.06,1.03,1.0,1.0,1.03,1.06,0.87,0.79,0.71,0.73,0.77,0.79,0.82,0.9,0.77,0.77];
var TRY_lo = [0.4,0.5,0.58,0.63,0.63,0.94,1.15,0.9,0.79,0.65,0.63,0.63,0.56,0.56,0.63,0.76,0.55,0.61,0.81,0.85,1.08,1.76,1.33,1.22,0.97,1.04,0.96,0.95,0.94,0.9,0.86,0.88,0.79,0.84,0.79,0.72,0.6,0.58,0.56,0.55,0.55,0.56,0.58,0.48,0.43,0.39,0.4,0.42,0.43,0.45,0.49,0.42,0.42];
var TRY_ticks = [0.5,1,1.5,2,2.5,3], TRY_labels = ["0.5","","1.5","","2.5",""];

var ZAR = [0.76,0.8,1.0,1.13,1.15,1.25,1.32,1.26,1.22,1.18,1.12,1.05,1.0,0.96,1.0,1.04,1.06,1.0,1.2,1.45,1.75,2.6,2.3,1.8,1.55,1.62,1.67,1.65,1.6,1.55,1.45,1.38,1.38,1.48,1.55,1.62,1.35,1.22,1.12,1.12,1.16,1.18,1.25,1.0,0.93,0.9,0.88,0.86,0.85,0.86,0.84,0.85,0.85];
var ZAR_hi = [0.96,1.0,1.25,1.41,1.44,1.56,1.65,1.58,1.53,1.48,1.4,1.31,1.25,1.2,1.25,1.3,1.33,1.25,1.5,1.81,2.19,3.25,2.88,2.25,1.94,2.03,2.09,2.06,2.0,1.94,1.81,1.73,1.73,1.85,1.94,2.03,1.69,1.53,1.4,1.4,1.45,1.48,1.56,1.25,1.16,1.13,1.1,1.08,1.06,1.08,1.05,1.06,1.06];
var ZAR_lo = [0.55,0.62,0.77,0.87,0.89,0.96,1.02,0.97,0.94,0.91,0.86,0.81,0.77,0.74,0.77,0.8,0.82,0.77,0.92,1.12,1.35,2.0,1.77,1.39,1.19,1.25,1.29,1.27,1.23,1.19,1.12,1.06,1.06,1.14,1.19,1.25,1.04,0.94,0.86,0.86,0.89,0.91,0.96,0.77,0.72,0.69,0.68,0.66,0.65,0.66,0.65,0.65,0.65];
var ZAR_ticks = [0.5,1,1.5,2,2.5,3], ZAR_labels = ["0.5","","1.5","","2.5",""];

// table of panels built from the arrays above
var columns = [
  [
    {name: "AUD", mid: AUD, lo: AUD_lo, hi: AUD_hi, ticks: AUD_ticks, labels: AUD_labels},
    {name: "CHF", mid: CHF, lo: CHF_lo, hi: CHF_hi, ticks: CHF_ticks, labels: CHF_labels},
    {name: "CZK", mid: CZK, lo: CZK_lo, hi: CZK_hi, ticks: CZK_ticks, labels: CZK_labels},
    {name: "GBP", mid: GBP, lo: GBP_lo, hi: GBP_hi, ticks: GBP_ticks, labels: GBP_labels},
    {name: "HRK", mid: HRK, lo: HRK_lo, hi: HRK_hi, ticks: HRK_ticks, labels: HRK_labels},
    {name: "IDR", mid: IDR, lo: IDR_lo, hi: IDR_hi, ticks: IDR_ticks, labels: IDR_labels},
    {name: "KRW", mid: KRW, lo: KRW_lo, hi: KRW_hi, ticks: KRW_ticks, labels: KRW_labels},
    {name: "NOK", mid: NOK, lo: NOK_lo, hi: NOK_hi, ticks: NOK_ticks, labels: NOK_labels},
    {name: "PHP", mid: PHP, lo: PHP_lo, hi: PHP_hi, ticks: PHP_ticks, labels: PHP_labels},
    {name: "RON", mid: RON, lo: RON_lo, hi: RON_hi, ticks: RON_ticks, labels: RON_labels},
    {name: "SEK", mid: SEK, lo: SEK_lo, hi: SEK_hi, ticks: SEK_ticks, labels: SEK_labels},
    {name: "THB", mid: THB, lo: THB_lo, hi: THB_hi, ticks: THB_ticks, labels: THB_labels},
    {name: "USD", mid: USD, lo: USD_lo, hi: USD_hi, ticks: USD_ticks, labels: USD_labels}
  ],
  [
    {name: "CAD", mid: CAD, lo: CAD_lo, hi: CAD_hi, ticks: CAD_ticks, labels: CAD_labels},
    {name: "CNY", mid: CNY, lo: CNY_lo, hi: CNY_hi, ticks: CNY_ticks, labels: CNY_labels},
    {name: "DKK", mid: DKK, lo: DKK_lo, hi: DKK_hi, ticks: DKK_ticks, labels: DKK_labels},
    {name: "HKD", mid: HKD, lo: HKD_lo, hi: HKD_hi, ticks: HKD_ticks, labels: HKD_labels},
    {name: "HUF", mid: HUF, lo: HUF_lo, hi: HUF_hi, ticks: HUF_ticks, labels: HUF_labels},
    {name: "JPY", mid: JPY, lo: JPY_lo, hi: JPY_hi, ticks: JPY_ticks, labels: JPY_labels},
    {name: "MYR", mid: MYR, lo: MYR_lo, hi: MYR_hi, ticks: MYR_ticks, labels: MYR_labels},
    {name: "NZD", mid: NZD, lo: NZD_lo, hi: NZD_hi, ticks: NZD_ticks, labels: NZD_labels},
    {name: "PLN", mid: PLN, lo: PLN_lo, hi: PLN_hi, ticks: PLN_ticks, labels: PLN_labels},
    {name: "RUB", mid: RUB, lo: RUB_lo, hi: RUB_hi, ticks: RUB_ticks, labels: RUB_labels},
    {name: "SGD", mid: SGD, lo: SGD_lo, hi: SGD_hi, ticks: SGD_ticks, labels: SGD_labels},
    {name: "TRY", mid: TRY, lo: TRY_lo, hi: TRY_hi, ticks: TRY_ticks, labels: TRY_labels},
    {name: "ZAR", mid: ZAR, lo: ZAR_lo, hi: ZAR_hi, ticks: ZAR_ticks, labels: ZAR_labels}
  ]
];

var width = 969, height = 1163;
var parse = d3.timeParse('%Y-%m-%d');
var xDates = dates.map(parse);
var xTicks = tickDates.map(parse);

var colLeft = [38.3, 522.7], panelW = 425.5;
var top0 = 2.7, pitch = 85.2, panelH = 80.9;
// label offsets differ a little between the outer and inner side of each column
var inLabel = [5, 10.5], nameOff = [13.3, 18.5], outLabel = [14.5, 11.5];

var svg = d3.select('#chart')
  .append('svg')
  .attr('width', width)
  .attr('height', height);

columns.forEach(function(col, c) {
  col.forEach(function(p, r) {
    var x0 = colLeft[c], y0 = top0 + r * pitch;
    var padX = panelW * 0.04 / 1.08;
    var xScale = d3.scaleTime()
      .domain([parse('2007-12-31'), parse('2009-12-31')])
      .range([x0 + padX, x0 + panelW - padX]);
    var ext = d3.extent(p.lo.concat(p.hi, p.mid));
    var padY = (ext[1] - ext[0]) * 0.04;
    var yScale = d3.scaleLinear()
      .domain([ext[0] - padY, ext[1] + padY])
      .range([y0 + panelH, y0]);

    var g = svg.append('g');

    var line = d3.line()
      .x(function(d, i) { return xScale(xDates[i]); })
      .y(function(d) { return yScale(d); });

    [p.lo, p.hi].forEach(function(band) {
      g.append('path')
        .attr('d', line(band))
        .attr('fill', 'none')
        .attr('stroke', '#bfbfbf')
        .attr('stroke-width', 1.2)
        .attr('stroke-linejoin', 'round');
    });
    g.append('path')
      .attr('d', line(p.mid))
      .attr('fill', 'none')
      .attr('stroke', '#000')
      .attr('stroke-width', 1.25)
      .attr('stroke-linejoin', 'round');

    g.append('rect')
      .attr('x', x0).attr('y', y0)
      .attr('width', panelW).attr('height', panelH)
      .attr('fill', 'none')
      .attr('stroke', '#000')
      .attr('stroke-width', 1);

    var labelLeft = (r % 2 === 0);
    var leftAxis = g.append('g')
      .attr('transform', 'translate(' + x0 + ',0)')
      .call(d3.axisLeft(yScale).tickValues(p.ticks).tickSize(6)
        .tickFormat(function(d, i) { return labelLeft ? p.labels[i] : ''; }));
    var rightAxis = g.append('g')
      .attr('transform', 'translate(' + (x0 + panelW) + ',0)')
      .call(d3.axisRight(yScale).tickValues(p.ticks).tickSize(6)
        .tickFormat(function(d, i) { return labelLeft ? '' : p.labels[i]; }));
    [leftAxis, rightAxis].forEach(function(a) {
      a.select('.domain').remove();
      a.attr('font-size', 9.5).attr('font-family', null);
    });
    leftAxis.selectAll('text')
      .attr('x', null).attr('dy', null)
      .attr('text-anchor', 'middle')
      .attr('transform', 'translate(' + (-inLabel[c]) + ',0) rotate(-90)');
    rightAxis.selectAll('text')
      .attr('x', null).attr('dy', null)
      .attr('text-anchor', 'middle')
      .attr('transform', 'translate(' + outLabel[c] + ',0) rotate(-90)');

    var bottom = g.append('g')
      .attr('transform', 'translate(0,' + (y0 + panelH) + ')')
      .call(d3.axisBottom(xScale).tickValues(xTicks).tickSize(5)
        .tickFormat(r === col.length - 1 ? d3.timeFormat('%Y-%m-%d') : function() { return ''; }));
    bottom.select('.domain').remove();
    bottom.attr('font-size', 11).attr('font-family', null);
    bottom.selectAll('text')
      .attr('y', null).attr('dy', null)
      .attr('text-anchor', 'end')
      .attr('transform', 'translate(4.5,11) rotate(-45)');

    g.append('text')
      .attr('transform', 'translate(' + (x0 - nameOff[c]) + ',' + (y0 + panelH / 2) + ') rotate(-90)')
      .attr('text-anchor', 'middle')
      .attr('font-size', 16)
      .text(p.name);
  });
});
</script>
</body>
</html>
